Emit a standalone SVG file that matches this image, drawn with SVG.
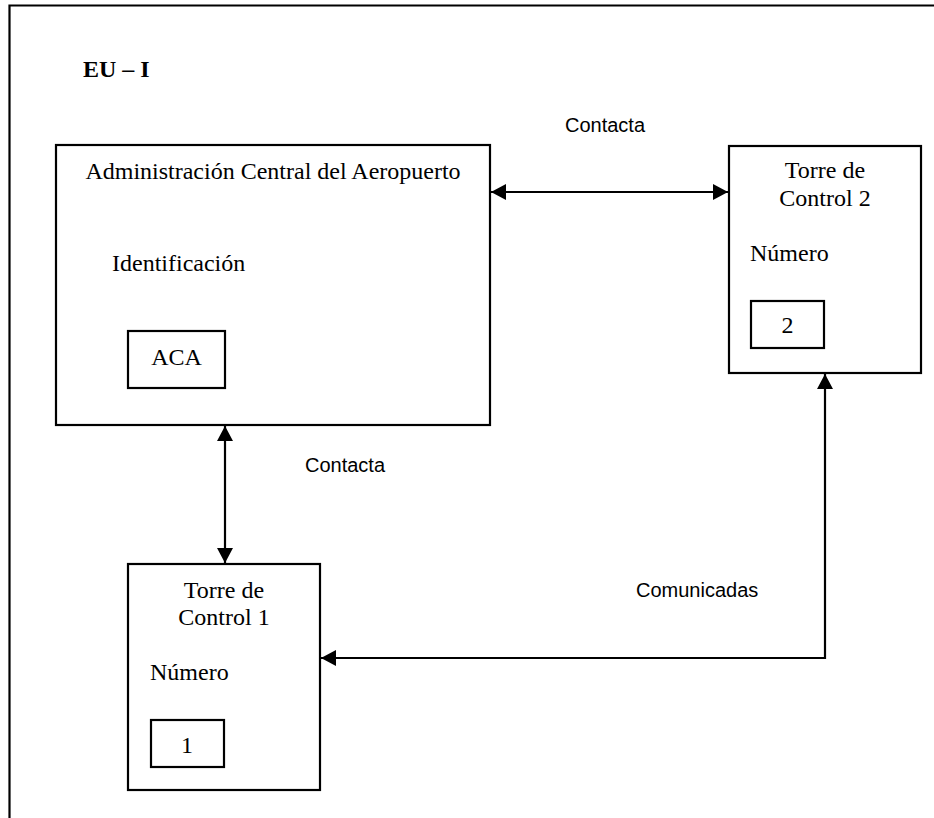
<svg xmlns="http://www.w3.org/2000/svg" width="934" height="818" viewBox="0 0 934 818">
<style>
.box{fill:#fff;stroke:#000;stroke-width:2.2}
.t{font-family:"Liberation Serif","Times New Roman",serif;font-size:24px;fill:#000}
.c{text-anchor:middle}
.lbl{font-family:"Liberation Sans",Arial,sans-serif;font-size:20px;fill:#000}
.ln{fill:none;stroke:#000;stroke-width:2.2}
</style>
<defs>
<marker id="ah" viewBox="0 0 15 16" refX="15" refY="8" markerWidth="15" markerHeight="16" markerUnits="userSpaceOnUse" orient="auto-start-reverse">
<path d="M0,0 L15,8 L0,16 Z" fill="#000"/>
</marker>
</defs>
<rect width="934" height="818" fill="#fff"/>
<g id="frame">
<path d="M9.5,818 V5.5 H934" class="ln" stroke-width="2.5"/>
<text x="83" y="77" class="t" font-weight="bold">EU – I</text>
</g>
<g id="aca">
<rect x="56" y="145" width="434" height="280" class="box"/>
<text x="273" y="179" class="t c">Administración Central del Aeropuerto</text>
<text x="112" y="271" class="t">Identificación</text>
<rect x="128" y="331" width="97" height="57" class="box"/>
<text x="176.5" y="365" class="t c">ACA</text>
</g>
<g id="torre2">
<rect x="729" y="146" width="192" height="227" class="box"/>
<text x="825" y="178" class="t c">Torre de</text>
<text x="825" y="206" class="t c">Control 2</text>
<text x="750" y="261" class="t">Número</text>
<rect x="751" y="301" width="73" height="47" class="box"/>
<text x="787.5" y="333" class="t c">2</text>
</g>
<g id="torre1">
<rect x="128" y="564" width="192" height="226" class="box"/>
<text x="224" y="598" class="t c">Torre de</text>
<text x="224" y="625" class="t c">Control 1</text>
<text x="150" y="680" class="t">Número</text>
<rect x="151" y="720" width="73" height="47" class="box"/>
<text x="187" y="753" class="t c">1</text>
</g>
<g id="connectors">
<path d="M491,192 H728" class="ln" marker-start="url(#ah)" marker-end="url(#ah)"/>
<text x="565" y="132" class="lbl">Contacta</text>
<path d="M225,426 V563" class="ln" marker-start="url(#ah)" marker-end="url(#ah)"/>
<text x="305" y="472" class="lbl">Contacta</text>
<path d="M825,374 V658 H321" class="ln" marker-start="url(#ah)" marker-end="url(#ah)"/>
<text x="636" y="597" class="lbl">Comunicadas</text>
</g>
</svg>
